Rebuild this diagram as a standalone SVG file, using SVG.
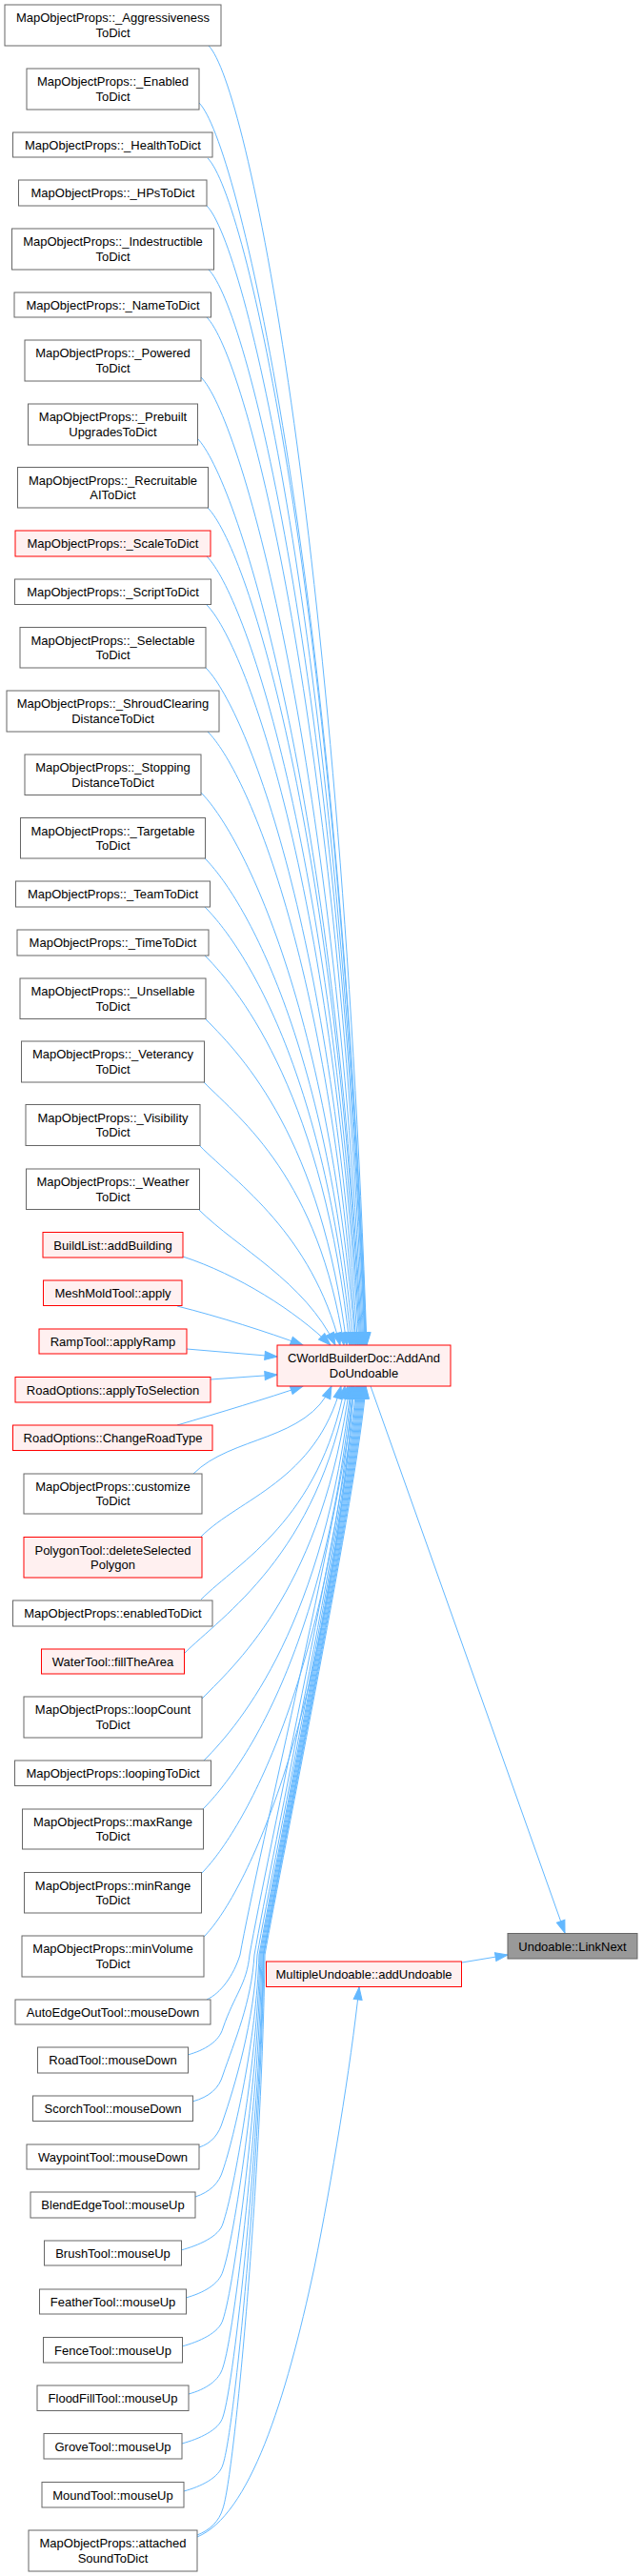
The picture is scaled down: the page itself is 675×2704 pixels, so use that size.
<svg xmlns="http://www.w3.org/2000/svg" width="675" height="2704" viewBox="0 0 675 2704">
<defs>
<style>
.n rect{fill:#ffffff;stroke:#666666;stroke-width:1}
.r rect{fill:#fff0f0;stroke:#ff0000;stroke-width:1}
.g rect{fill:#999999;stroke:#666666;stroke-width:1}
text{font-family:"Liberation Sans",Arial,sans-serif;font-size:13px;text-anchor:middle;fill:#000000}
.e path{fill:none;stroke:#63b8ff;stroke-width:1;marker-end:url(#ah)}
</style>
<marker id="ah" viewBox="0 0 13 9" refX="13" refY="4.5" markerWidth="13" markerHeight="9" markerUnits="userSpaceOnUse" orient="auto" overflow="visible">
<path d="M0,0 L13,4.5 L0,9 z" fill="#63b8ff" stroke="#63b8ff" stroke-width="1"/>
</marker>
</defs>
<rect x="0" y="0" width="675" height="2704" fill="#ffffff"/>
<g id="edges" class="e">
<path d="M219,48 C259,88 355,553 385,1412"/>
<path d="M209,108 C249,148 353,590 384.5,1412"/>
<path d="M218,166 C258,206 354,627 384,1412"/>
<path d="M217,216 C257,256 353.5,658.5 383.5,1412"/>
<path d="M219,283 C259,323 353.5,701 383,1412"/>
<path d="M217,333 C257,373 352.3,732 382,1412"/>
<path d="M211,396 C251,436 350.4,772 381,1412"/>
<path d="M207,460 C247,500 349,812 380,1412"/>
<path d="M218,533 C258,573 350,858 379,1412"/>
<path d="M217,584 C257,624 349,890 378,1412"/>
<path d="M217,635 C257,675 348,922 377,1412"/>
<path d="M216,701 C256,741 347,964 375.5,1412"/>
<path d="M218,768 C258,808 346,1006 374,1412"/>
<path d="M211,832 C251,872 344,1047 373,1412"/>
<path d="M215,901 C255,941 343,1090 371,1412"/>
<path d="M215,952 C255,992 341,1122 369,1412"/>
<path d="M215,1003 C255,1043 340,1154 367,1412"/>
<path d="M216,1070 C256,1110 337,1196 364,1412"/>
<path d="M214,1136 C254,1176 334.5,1238 361,1412"/>
<path d="M210,1203 C250,1243 327,1295 357,1412"/>
<path d="M209,1270 C249,1310 320,1345 352,1412"/>
<path d="M192,1319 C250,1338 310,1376 347,1412"/>
<path d="M186,1371 C230,1382 280,1398 318,1412"/>
<path d="M196,1416 L291,1424"/>
<path d="M221,1448 L291,1443"/>
<path d="M186,1496 C230,1483 280,1468 318,1455"/>
<path d="M203,1547 C243,1507 322,1513 348,1455"/>
<path d="M211,1613 C251,1573 331.5,1554.5 358,1455"/>
<path d="M211,1679 C251,1639 335,1596 362,1455"/>
<path d="M193,1736 C233,1696 334,1632 365,1455"/>
<path d="M212,1783 C252,1743 339,1662 367,1455"/>
<path d="M214,1848 C254,1808 340.7,1703 368.5,1455"/>
<path d="M213,1899 C253,1859 341.3,1735 369.5,1455"/>
<path d="M211,1967 C251,1927 341.8,1778 370.5,1455"/>
<path d="M214,2033 C254,1993 343,1819 371.5,1455"/>
<path d="M217,2099 C232,2092 245,2074 252,2052 C270,1950 364,1560 372,1455"/>
<path d="M197,2157 C215,2152 230,2143 234,2129 C246,2094 259,2083 262,2052 C280,1950 366,1560 374,1455"/>
<path d="M202,2206 C220,2201 230,2192 234,2178 C246,2143 264,2102 267,2052 C285,1950 367,1560 375,1455"/>
<path d="M209,2254 C222,2250 230,2240 234,2226 C246,2191 267,2122 270,2052 C288,1950 368,1560 376,1455"/>
<path d="M205,2306 C220,2301 230,2292 234,2278 C246,2243 269,2142 272,2052 C290,1950 369,1560 377,1455"/>
<path d="M190,2362 C208,2357 230,2348 234,2334 C246,2299 270,2165 273,2052 C291,1950 370,1560 378,1455"/>
<path d="M195,2412 C213,2407 230,2398 234,2384 C246,2349 271,2185 274,2052 C292,1950 371,1560 379,1455"/>
<path d="M191,2463 C209,2458 230,2449 234,2435 C246,2400 272,2205 275,2052 C293,1950 372,1560 380,1455"/>
<path d="M198,2513 C216,2508 230,2499 234,2485 C246,2450 273,2225 276,2052 C294,1950 373,1560 381,1455"/>
<path d="M191,2565 C209,2560 230,2551 234,2537 C246,2502 273.5,2246 276.5,2052 C294.5,1950 374,1560 382,1455"/>
<path d="M193,2615 C211,2610 230,2601 234,2587 C246,2552 274,2266 277,2052 C295,1950 375,1560 383,1455"/>
<path d="M207,2661 C220,2656 230,2647 234,2633 C246,2598 275,2284 278,2052 C296,1950 376,1560 384,1455"/>
<path d="M207,2663 C262,2640 300,2520 330,2380 C348,2290 368,2170 377,2086"/>
<path d="M389,1455 L593,2029"/>
<path d="M485,2060 L533,2052"/>
</g>
<g id="n1" class="n"><rect x="5" y="5" width="227" height="43"/><text x="118.5" y="23.2">MapObjectProps::_Aggressiveness</text><text x="118.5" y="38.8">ToDict</text></g>
<g id="n2" class="n"><rect x="28" y="72" width="181" height="43"/><text x="118.5" y="90.2">MapObjectProps::_Enabled</text><text x="118.5" y="105.8">ToDict</text></g>
<g id="n3" class="n"><rect x="13.5" y="139" width="209.5" height="26"/><text x="118.5" y="156.7">MapObjectProps::_HealthToDict</text></g>
<g id="n4" class="n"><rect x="19.5" y="189" width="197.5" height="27"/><text x="118.5" y="207.2">MapObjectProps::_HPsToDict</text></g>
<g id="n5" class="n"><rect x="12.5" y="240" width="212" height="43"/><text x="118.5" y="258.2">MapObjectProps::_Indestructible</text><text x="118.5" y="273.8">ToDict</text></g>
<g id="n6" class="n"><rect x="15" y="307" width="206.5" height="26"/><text x="118.5" y="324.7">MapObjectProps::_NameToDict</text></g>
<g id="n7" class="n"><rect x="26" y="357" width="185" height="43"/><text x="118.5" y="375.2">MapObjectProps::_Powered</text><text x="118.5" y="390.8">ToDict</text></g>
<g id="n8" class="n"><rect x="29.5" y="424" width="178" height="43"/><text x="118.5" y="442.2">MapObjectProps::_Prebuilt</text><text x="118.5" y="457.8">UpgradesToDict</text></g>
<g id="n9" class="n"><rect x="18.5" y="490.5" width="200" height="42.5"/><text x="118.5" y="508.5">MapObjectProps::_Recruitable</text><text x="118.5" y="524">AIToDict</text></g>
<g id="n10" class="r"><rect x="16" y="557" width="205" height="27"/><text x="118.5" y="575.2">MapObjectProps::_ScaleToDict</text></g>
<g id="n11" class="n"><rect x="15.5" y="608" width="206" height="26.5"/><text x="118.5" y="626">MapObjectProps::_ScriptToDict</text></g>
<g id="n12" class="n"><rect x="21" y="658.5" width="195" height="42.5"/><text x="118.5" y="676.5">MapObjectProps::_Selectable</text><text x="118.5" y="692">ToDict</text></g>
<g id="n13" class="n"><rect x="7" y="725" width="223" height="43"/><text x="118.5" y="743.2">MapObjectProps::_ShroudClearing</text><text x="118.5" y="758.8">DistanceToDict</text></g>
<g id="n14" class="n"><rect x="26" y="792" width="185" height="42.5"/><text x="118.5" y="810">MapObjectProps::_Stopping</text><text x="118.5" y="825.5">DistanceToDict</text></g>
<g id="n15" class="n"><rect x="21.5" y="858.5" width="194" height="42.5"/><text x="118.5" y="876.5">MapObjectProps::_Targetable</text><text x="118.5" y="892">ToDict</text></g>
<g id="n16" class="n"><rect x="16.5" y="925" width="204" height="27"/><text x="118.5" y="943.2">MapObjectProps::_TeamToDict</text></g>
<g id="n17" class="n"><rect x="18" y="976" width="201" height="27"/><text x="118.5" y="994.2">MapObjectProps::_TimeToDict</text></g>
<g id="n18" class="n"><rect x="21" y="1027" width="195" height="42.5"/><text x="118.5" y="1045">MapObjectProps::_Unsellable</text><text x="118.5" y="1060.5">ToDict</text></g>
<g id="n19" class="n"><rect x="22.5" y="1093" width="192" height="43"/><text x="118.5" y="1111.2">MapObjectProps::_Veterancy</text><text x="118.5" y="1126.8">ToDict</text></g>
<g id="n20" class="n"><rect x="27" y="1159.5" width="183" height="43"/><text x="118.5" y="1177.7">MapObjectProps::_Visibility</text><text x="118.5" y="1193.3">ToDict</text></g>
<g id="n21" class="n"><rect x="27.5" y="1227" width="182" height="42.5"/><text x="118.5" y="1245">MapObjectProps::_Weather</text><text x="118.5" y="1260.5">ToDict</text></g>
<g id="n22" class="r"><rect x="45" y="1293.5" width="147" height="26.5"/><text x="118.5" y="1311.5">BuildList::addBuilding</text></g>
<g id="n23" class="r"><rect x="45.5" y="1344" width="145.5" height="26.5"/><text x="118.5" y="1362">MeshMoldTool::apply</text></g>
<g id="n24" class="r"><rect x="41" y="1395" width="155" height="26"/><text x="118.5" y="1412.7">RampTool::applyRamp</text></g>
<g id="n25" class="r"><rect x="16" y="1445.5" width="205" height="26.5"/><text x="118.5" y="1463.5">RoadOptions::applyToSelection</text></g>
<g id="n26" class="r"><rect x="13.5" y="1496" width="209.5" height="26.5"/><text x="118.5" y="1514">RoadOptions::ChangeRoadType</text></g>
<g id="n27" class="n"><rect x="25" y="1547" width="187" height="42"/><text x="118.5" y="1564.7">MapObjectProps::customize</text><text x="118.5" y="1580.3">ToDict</text></g>
<g id="n28" class="r"><rect x="25" y="1613.5" width="187" height="42.5"/><text x="118.5" y="1631.5">PolygonTool::deleteSelected</text><text x="118.5" y="1647">Polygon</text></g>
<g id="n29" class="n"><rect x="13.5" y="1680" width="209.5" height="27"/><text x="118.5" y="1698.2">MapObjectProps::enabledToDict</text></g>
<g id="n30" class="r"><rect x="43.5" y="1731" width="150" height="26"/><text x="118.5" y="1748.7">WaterTool::fillTheArea</text></g>
<g id="n31" class="n"><rect x="25" y="1781" width="187" height="43"/><text x="118.5" y="1799.2">MapObjectProps::loopCount</text><text x="118.5" y="1814.8">ToDict</text></g>
<g id="n32" class="n"><rect x="15.5" y="1848" width="206" height="26.5"/><text x="118.5" y="1866">MapObjectProps::loopingToDict</text></g>
<g id="n33" class="n"><rect x="23.5" y="1899" width="190" height="42"/><text x="118.5" y="1916.7">MapObjectProps::maxRange</text><text x="118.5" y="1932.3">ToDict</text></g>
<g id="n34" class="n"><rect x="25.5" y="1965.5" width="186" height="42.5"/><text x="118.5" y="1983.5">MapObjectProps::minRange</text><text x="118.5" y="1999">ToDict</text></g>
<g id="n35" class="n"><rect x="23" y="2032" width="191" height="43"/><text x="118.5" y="2050.2">MapObjectProps::minVolume</text><text x="118.5" y="2065.8">ToDict</text></g>
<g id="n36" class="n"><rect x="16" y="2099" width="205" height="26"/><text x="118.5" y="2116.7">AutoEdgeOutTool::mouseDown</text></g>
<g id="n37" class="n"><rect x="39.5" y="2149" width="158" height="27"/><text x="118.5" y="2167.2">RoadTool::mouseDown</text></g>
<g id="n38" class="n"><rect x="34.5" y="2200" width="168" height="26.5"/><text x="118.5" y="2218">ScorchTool::mouseDown</text></g>
<g id="n39" class="n"><rect x="28" y="2251" width="181" height="26"/><text x="118.5" y="2268.7">WaypointTool::mouseDown</text></g>
<g id="n40" class="n"><rect x="32" y="2301" width="173" height="27"/><text x="118.5" y="2319.2">BlendEdgeTool::mouseUp</text></g>
<g id="n41" class="n"><rect x="46.5" y="2352" width="144" height="26"/><text x="118.5" y="2369.7">BrushTool::mouseUp</text></g>
<g id="n42" class="n"><rect x="41.5" y="2403" width="154" height="26"/><text x="118.5" y="2420.7">FeatherTool::mouseUp</text></g>
<g id="n43" class="n"><rect x="45.5" y="2453.5" width="146" height="26.5"/><text x="118.5" y="2471.5">FenceTool::mouseUp</text></g>
<g id="n44" class="n"><rect x="39" y="2504" width="159" height="26.5"/><text x="118.5" y="2522">FloodFillTool::mouseUp</text></g>
<g id="n45" class="n"><rect x="46" y="2554.5" width="145" height="26.5"/><text x="118.5" y="2572.5">GroveTool::mouseUp</text></g>
<g id="n46" class="n"><rect x="44" y="2605.5" width="149" height="26.5"/><text x="118.5" y="2623.5">MoundTool::mouseUp</text></g>
<g id="n47" class="n"><rect x="30" y="2656" width="177" height="43"/><text x="118.5" y="2674.2">MapObjectProps::attached</text><text x="118.5" y="2689.8">SoundToDict</text></g>
<g id="nC" class="r"><rect x="291" y="1412" width="182" height="43"/><text x="382" y="1430.2">CWorldBuilderDoc::AddAnd</text><text x="382" y="1445.8">DoUndoable</text></g>
<g id="nM" class="r"><rect x="279.5" y="2059" width="205" height="26.5"/><text x="382" y="2077">MultipleUndoable::addUndoable</text></g>
<g id="nL" class="g"><rect x="533" y="2029.5" width="136" height="26.5"/><text x="601" y="2047.5">Undoable::LinkNext</text></g>
</svg>
